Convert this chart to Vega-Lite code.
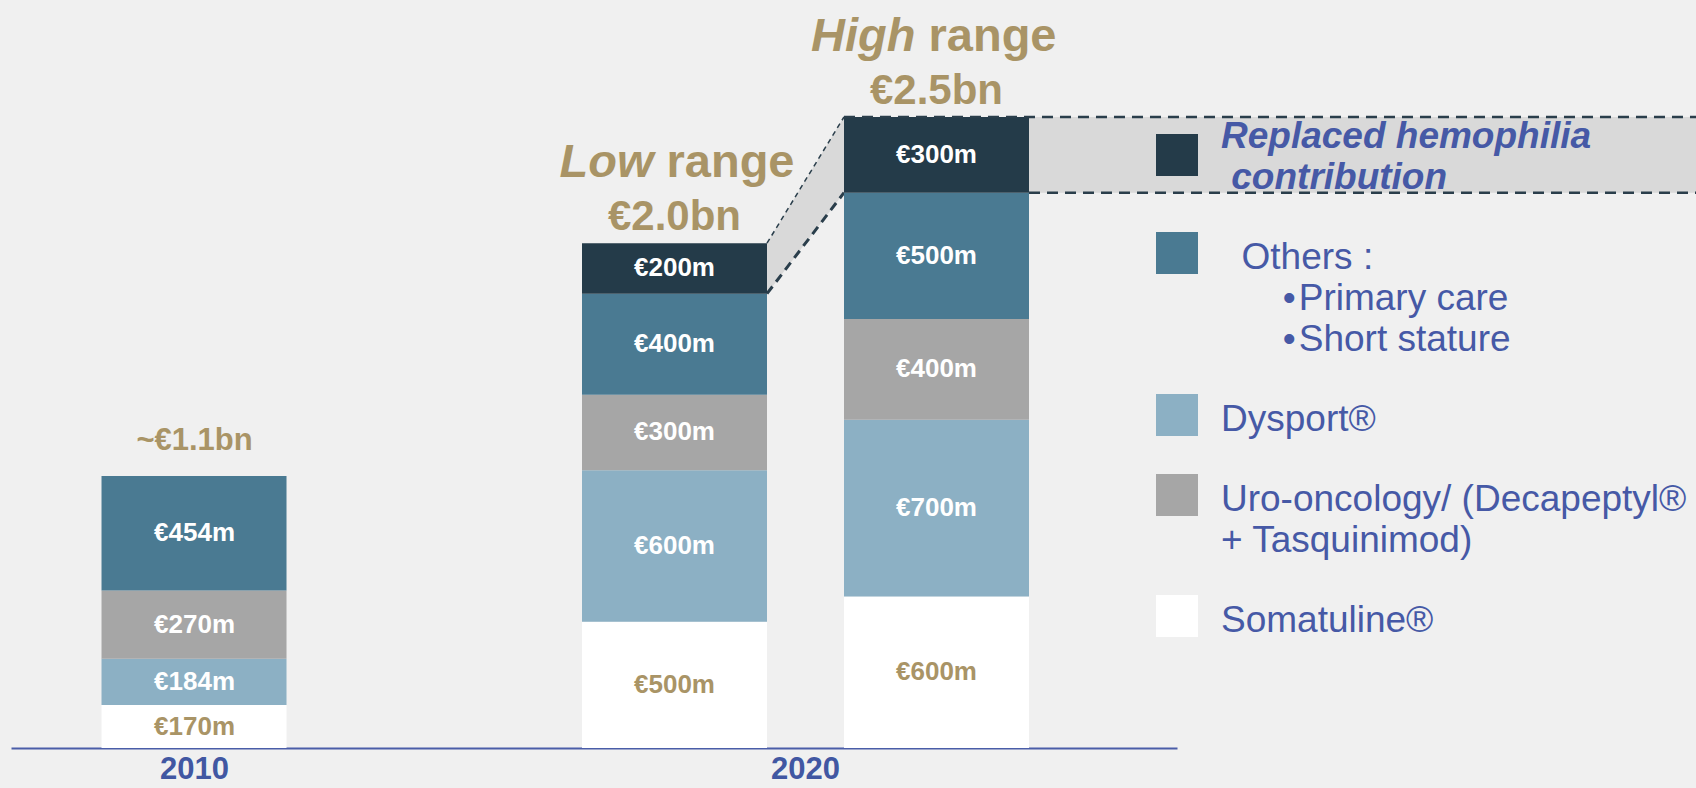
{
  "$schema": "https://vega.github.io/schema/vega-lite/v6.json",
  "width": 1166,
  "height": 748,
  "padding": {"left": 11, "top": 0, "right": 519, "bottom": 40},
  "autosize": {"type": "none"},
  "background": "#F0F0F0",
  "config": {"view": {"stroke": null}, "font": "Liberation Sans", "text": {"font": "Liberation Sans"}},
  "data": {
    "values": [
      {"year": "2010", "scenario": "Actual", "segment": "Somatuline®", "value": 170},
      {"year": "2010", "scenario": "Actual", "segment": "Dysport®", "value": 184},
      {"year": "2010", "scenario": "Actual", "segment": "Uro-oncology/ (Decapeptyl® + Tasquinimod)", "value": 270},
      {"year": "2010", "scenario": "Actual", "segment": "Others", "value": 454},
      {"year": "2020", "scenario": "Low", "segment": "Somatuline®", "value": 500},
      {"year": "2020", "scenario": "Low", "segment": "Dysport®", "value": 600},
      {"year": "2020", "scenario": "Low", "segment": "Uro-oncology/ (Decapeptyl® + Tasquinimod)", "value": 300},
      {"year": "2020", "scenario": "Low", "segment": "Others", "value": 400},
      {"year": "2020", "scenario": "Low", "segment": "Replaced hemophilia contribution", "value": 200},
      {"year": "2020", "scenario": "High", "segment": "Somatuline®", "value": 600},
      {"year": "2020", "scenario": "High", "segment": "Dysport®", "value": 700},
      {"year": "2020", "scenario": "High", "segment": "Uro-oncology/ (Decapeptyl® + Tasquinimod)", "value": 400},
      {"year": "2020", "scenario": "High", "segment": "Others", "value": 500},
      {"year": "2020", "scenario": "High", "segment": "Replaced hemophilia contribution", "value": 300}
    ]
  },
  "transform": [
    {"calculate": "indexof(['Somatuline®','Dysport®','Uro-oncology/ (Decapeptyl® + Tasquinimod)','Others','Replaced hemophilia contribution'], datum.segment)", "as": "k"},
    {"stack": "value", "groupby": ["year", "scenario"], "sort": [{"field": "k", "order": "ascending"}], "as": ["v0", "v1"]},
    {"calculate": "(datum.v0 + datum.v1) / 2", "as": "mid"},
    {"joinaggregate": [{"op": "sum", "field": "value", "as": "total"}], "groupby": ["year", "scenario"]},
    {"calculate": "'€' + datum.value + 'm'", "as": "seglabel"},
    {"calculate": "(datum.year == '2010' ? '~' : '') + '€' + format(datum.total / 1000, '.1f') + 'bn'", "as": "totlabel"}
  ],
  "layer": [
    {
      "transform": [{"filter": "datum.segment == 'Replaced hemophilia contribution'"}],
      "encoding": {
        "x": {"field": "scenario", "type": "nominal", "scale": {"type": "point", "domain": ["Low", "High"], "range": [756, 833], "padding": 0}, "axis": null}
      },
      "layer": [
        {"mark": {"type": "area", "color": "#D9D9D9", "opacity": 1},
         "encoding": {"y": {"field": "v1", "type": "quantitative", "scale": {"domain": [0, 2963.5], "nice": false, "zero": true}, "axis": null}, "y2": {"field": "v0"}}},
        {"mark": {"type": "line", "color": "#2A3E4B", "strokeWidth": 1.5, "strokeDash": [5, 4]},
         "encoding": {"y": {"field": "v1", "type": "quantitative", "axis": null}}},
        {"mark": {"type": "line", "color": "#2A3E4B", "strokeWidth": 3, "strokeDash": [9, 6]},
         "encoding": {"y": {"field": "v0", "type": "quantitative", "axis": null}}}
      ]
    },
    {
      "encoding": {
        "x": {"field": "year", "type": "nominal",
              "scale": {"domain": ["2010", "2020"], "paddingInner": 0.0697, "paddingOuter": 0.2482, "align": 0.3795},
              "axis": {"labels": false, "ticks": false, "domain": true, "domainColor": "#4A5DA8", "domainWidth": 2, "title": null, "grid": false}}
      },
      "layer": [
        {
          "transform": [{"filter": "datum.year == '2010'"}],
          "mark": {"type": "bar"},
          "encoding": {
            "xOffset": {"datum": "Low", "type": "nominal"},
            "y": {"field": "v1", "type": "quantitative", "scale": {"domain": [0, 2963.5], "nice": false, "zero": true}, "axis": null},
            "y2": {"field": "v0"},
            "color": {"field": "segment", "type": "nominal",
              "scale": {"domain": ["Replaced hemophilia contribution", "Others", "Dysport®", "Uro-oncology/ (Decapeptyl® + Tasquinimod)", "Somatuline®"],
                        "range": ["#243B49", "#4A7A92", "#8CB0C4", "#A6A6A6", "#FFFFFF"]},
              "legend": {
                "orient": "none", "legendX": 1145, "legendY": 134, "title": null, "direction": "vertical", "columns": 1,
                "symbolType": "square", "symbolSize": 1764, "symbolStrokeWidth": 0, "symbolOpacity": 1,
                "labelFont": "Liberation Sans", "labelFontSize": 37, "labelColor": "#4659A6", "labelLimit": 700,
                "labelOffset": 23, "rowPadding": 36, "labelBaseline": "alphabetic", "padding": 0,
                "labelExpr": "datum.value == 'Replaced hemophilia contribution' ? ['Replaced hemophilia', '\u200b\u00a0contribution'] : datum.value == 'Others' ? ['\u200b\u00a0\u00a0Others :', '\u200b\u00a0\u00a0\u00a0\u00a0\u00a0\u00a0•\u200aPrimary care', '\u200b\u00a0\u00a0\u00a0\u00a0\u00a0\u00a0•\u200aShort stature'] : datum.value == 'Uro-oncology/ (Decapeptyl® + Tasquinimod)' ? ['Uro-oncology/ (Decapeptyl®', '+ Tasquinimod)'] : datum.label",
                "encode": {"labels": {"update": {
                  "fontStyle": {"signal": "datum.value == 'Replaced hemophilia contribution' ? 'italic' : 'normal'"},
                  "fontWeight": {"signal": "datum.value == 'Replaced hemophilia contribution' ? 'bold' : 'normal'"},
                  "dy": {"signal": "datum.value == 'Replaced hemophilia contribution' ? -7 : 16"},
                  "lineHeight": {"value": 41}
                }}}
              }}
          }
        },
        {
          "transform": [{"filter": "datum.year == '2020'"}],
          "mark": {"type": "bar"},
          "encoding": {
            "xOffset": {"field": "scenario", "type": "nominal", "scale": {"domain": ["Low", "High"], "paddingInner": 0.2939, "paddingOuter": 0}},
            "y": {"field": "v1", "type": "quantitative", "axis": null},
            "y2": {"field": "v0"},
            "color": {"field": "segment", "type": "nominal"}
          }
        },
        {
          "transform": [{"filter": "datum.scenario == 'High' && datum.segment == 'Replaced hemophilia contribution'"}],
          "mark": {"type": "rect", "color": "#D9D9D9"},
          "encoding": {
            "x": {"field": "year", "type": "nominal", "bandPosition": 1},
            "x2": {"value": {"expr": "width + padding.right"}},
            "y": {"field": "v1", "type": "quantitative", "axis": null},
            "y2": {"field": "v0"}
          }
        },
        {
          "transform": [{"filter": "datum.scenario == 'High' && datum.segment == 'Replaced hemophilia contribution'"}],
          "mark": {"type": "rule", "color": "#2A3E4B", "strokeWidth": 2.5, "strokeDash": [11, 7]},
          "encoding": {
            "x": {"field": "year", "type": "nominal", "bandPosition": 0.5861},
            "x2": {"value": {"expr": "width + padding.right"}},
            "y": {"field": "v1", "type": "quantitative", "axis": null}
          }
        },
        {
          "transform": [{"filter": "datum.scenario == 'High' && datum.segment == 'Replaced hemophilia contribution'"}],
          "mark": {"type": "rule", "color": "#2A3E4B", "strokeWidth": 2.5, "strokeDash": [11, 7]},
          "encoding": {
            "x": {"field": "year", "type": "nominal", "bandPosition": 1},
            "x2": {"value": {"expr": "width + padding.right"}},
            "y": {"field": "v0", "type": "quantitative", "axis": null}
          }
        },
        {
          "transform": [{"filter": "datum.year == '2010'"}],
          "mark": {"type": "text", "fontSize": 26, "fontWeight": "bold", "baseline": "middle", "align": "center"},
          "encoding": {
            "x": {"field": "year", "type": "nominal", "bandPosition": 0.2081},
            "y": {"field": "mid", "type": "quantitative", "axis": null},
            "text": {"field": "seglabel"},
            "color": {"condition": {"test": "datum.segment == 'Somatuline®'", "value": "#A99466"}, "value": "#FFFFFF"}
          }
        },
        {
          "transform": [{"filter": "datum.year == '2020'"}],
          "mark": {"type": "text", "fontSize": 26, "fontWeight": "bold", "baseline": "middle", "align": "center"},
          "encoding": {
            "xOffset": {"field": "scenario", "type": "nominal"},
            "y": {"field": "mid", "type": "quantitative", "axis": null},
            "text": {"field": "seglabel"},
            "color": {"condition": {"test": "datum.segment == 'Somatuline®'", "value": "#A99466"}, "value": "#FFFFFF"}
          }
        },
        {
          "transform": [{"filter": "datum.year == '2010' && datum.k == 0"}],
          "mark": {"type": "text", "fontSize": 31, "fontWeight": "bold", "baseline": "alphabetic", "align": "center", "dy": -26, "color": "#A99466"},
          "encoding": {
            "x": {"field": "year", "type": "nominal", "bandPosition": 0.2081},
            "y": {"field": "total", "type": "quantitative", "axis": null},
            "text": {"field": "totlabel"}
          }
        },
        {
          "transform": [{"filter": "datum.year == '2020' && datum.k == 0"}],
          "mark": {"type": "text", "fontSize": 42, "fontWeight": "bold", "baseline": "alphabetic", "align": "center", "dy": -13, "color": "#A99466"},
          "encoding": {
            "xOffset": {"field": "scenario", "type": "nominal"},
            "y": {"field": "total", "type": "quantitative", "axis": null},
            "text": {"field": "totlabel"}
          }
        },
        {
          "transform": [{"filter": "datum.year == '2020' && datum.k == 0"}],
          "mark": {"type": "text", "fontSize": 47, "fontWeight": "bold", "fontStyle": "italic", "baseline": "alphabetic", "align": "right", "dx": -21, "dy": -66, "color": "#A99466"},
          "encoding": {
            "xOffset": {"field": "scenario", "type": "nominal"},
            "y": {"field": "total", "type": "quantitative", "axis": null},
            "text": {"field": "scenario"}
          }
        },
        {
          "transform": [{"filter": "datum.year == '2020' && datum.k == 0"}],
          "mark": {"type": "text", "fontSize": 47, "fontWeight": "bold", "baseline": "alphabetic", "align": "left", "dx": -8, "dy": -66, "color": "#A99466"},
          "encoding": {
            "xOffset": {"field": "scenario", "type": "nominal"},
            "y": {"field": "total", "type": "quantitative", "axis": null},
            "text": {"value": "range"}
          }
        },
        {
          "transform": [{"filter": "datum.year == '2010' && datum.k == 0"}],
          "mark": {"type": "text", "fontSize": 31, "fontWeight": "bold", "baseline": "alphabetic", "align": "center", "dy": 31, "color": "#4157A2"},
          "encoding": {
            "x": {"field": "year", "type": "nominal", "bandPosition": 0.2081},
            "y": {"datum": 0, "type": "quantitative", "axis": null},
            "text": {"field": "year"}
          }
        },
        {
          "transform": [{"filter": "datum.year == '2020' && datum.k == 0 && datum.scenario == 'Low'"}],
          "mark": {"type": "text", "fontSize": 31, "fontWeight": "bold", "baseline": "alphabetic", "align": "center", "dy": 31, "color": "#4157A2"},
          "encoding": {
            "y": {"datum": 0, "type": "quantitative", "axis": null},
            "text": {"field": "year"}
          }
        }
      ]
    }
  ],
  "resolve": {"scale": {"x": "independent"}, "axis": {"x": "independent"}}
}
